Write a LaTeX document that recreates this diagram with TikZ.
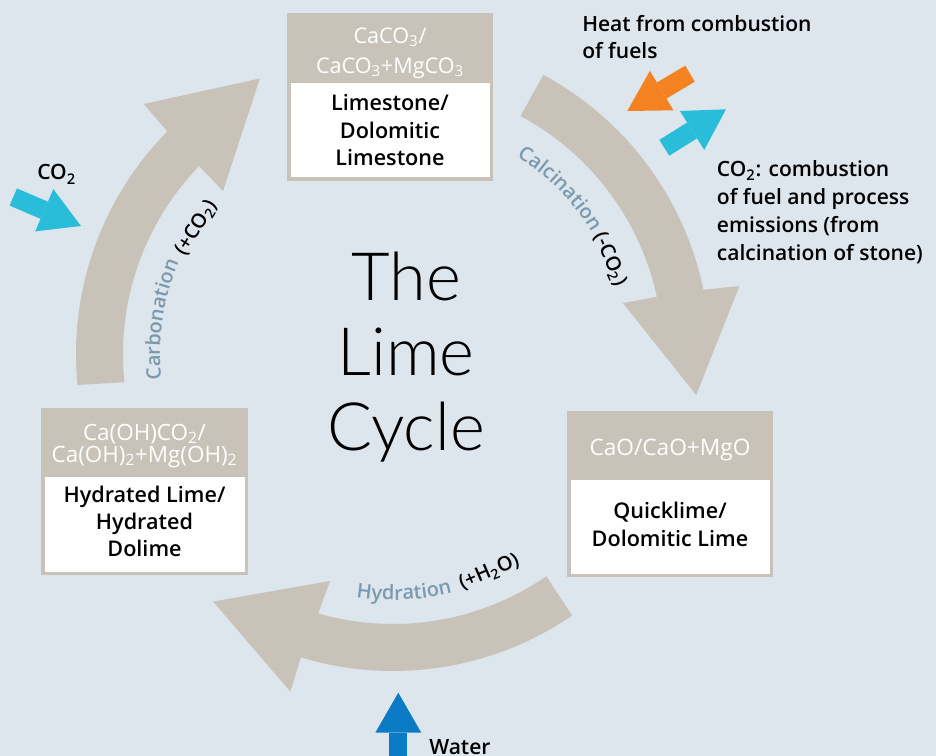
\documentclass[tikz,border=0pt]{standalone}
\usepackage{fontspec}
\setmainfont{Open Sans}[BoldFont={Open Sans Semibold}]
\newfontfamily\titlefont{Lato Light}
\usetikzlibrary{arrows.meta,decorations.text}
\definecolor{bg}{HTML}{DDE6ED}
\definecolor{band}{HTML}{C8C2B9}
\definecolor{lbl}{HTML}{7B9AAF}
\definecolor{heatc}{HTML}{F58220}
\definecolor{cyanc}{HTML}{29BDD9}
\definecolor{waterc}{HTML}{0A7BC4}
\newcommand\subs[1]{\textsubscript{#1}}
\newcommand\lblfont{\fontsize{15}{19}\selectfont\bfseries}
\begin{document}
\begin{tikzpicture}[x=0.75pt,y=-0.75pt,
  bodytxt/.style={font=\fontsize{16.2}{20.6}\selectfont\bfseries, align=center, inner sep=0pt, anchor=base},
  hdrtxt/.style={font=\fontsize{16.2}{22.5}\selectfont, text=white, align=center, inner sep=0pt, anchor=base},
  sidetxt/.style={font=\fontsize{15.8}{20.6}\selectfont\bfseries, align=left, inner sep=0pt, anchor=base west},
  partxt/.style={font=\lblfont, inner sep=0pt, anchor=base west},
  smallarr/.style={line width=14pt, -{Triangle[length=30pt,width=34.5pt,line width=0pt]}},
  bandfill/.style={fill=band}
]
\useasboundingbox (0,0) rectangle (936,756);
\fill[bg] (0,0) rectangle (936,756);

% big cycle arrows
\begin{scope}[shift={(393,354)}]
  % Calcination
  \fill[bandfill] (-61.7:317) arc[start angle=-61.7, end angle=-11.7, radius=317]
     -- (-11.1:353) -- (7.7:306) -- (-12.5:235.5) -- (-12.2:270)
     arc[start angle=-12.2, end angle=-61.8, radius=270] -- cycle;
  % Hydration
  \fill[bandfill] (55.6:317) arc[start angle=55.6, end angle=106.9, radius=317]
     -- (106.9:353) -- (126:306) -- (105.5:235.5) -- (106.1:270)
     arc[start angle=106.1, end angle=55.4, radius=270] -- cycle;
  % Carbonation
  \fill[bandfill] (174.4:317) arc[start angle=174.4, end angle=224.6, radius=317]
     -- (225.1:353) -- (244.2:306) -- (223.8:235.5) -- (224.1:270)
     arc[start angle=224.1, end angle=174, radius=270] -- cycle;

  % arc labels
  \path[decorate, decoration={text along path, text color=lbl, text={|\lblfont|Calcination}}]
     (-58:233) arc[start angle=-58, end angle=-15, radius=233];
  \node[partxt, rotate=-66.75] (calcpar) at (-30.5:233) {(-CO\subs{2})};

  \path[decorate, decoration={text along path, text color=lbl, text={|\lblfont|Hydration}}]
     (98.6:246) arc[start angle=98.6, end angle=60, radius=246];
  \node[partxt, rotate=23.5] (hydpar) at (73.7:246) {(+H\subs{2}O)};

  \path[decorate, decoration={text along path, text color=lbl, text={|\lblfont|Carbonation}}]
     (173.7:233) arc[start angle=173.7, end angle=215, radius=233];
  \node[partxt, rotate=57.75] (carbpar) at (205:230) {(+CO\subs{2})};
\end{scope}

% boxes
\fill[band] (287,13) rectangle (493,181);
\fill[white] (290.5,83) rectangle (489.5,177.5);
\fill[band] (41,408) rectangle (248,575);
\fill[white] (44.5,477) rectangle (244.5,571.5);
\fill[band] (567,411) rectangle (773,577);
\fill[white] (570.5,480) rectangle (769.5,573.5);

% multi-line nodes: base anchor = baseline of last line
\node[hdrtxt] (limehdr) at (390,73.3) {CaCO\subs{3}/\\CaCO\subs{3}+MgCO\subs{3}};
\node[bodytxt] (limebody) at (390,165.5) {Limestone/\\Dolomitic\\Limestone};

\node[hdrtxt, font=\fontsize{16.8}{16.5}\selectfont] (hydhdr) at (144.5,462) {Ca(OH)CO\subs{2}/\\Ca(OH)\subs{2}+Mg(OH)\subs{2}};
\node[bodytxt, font=\fontsize{16.2}{20.2}\selectfont\bfseries] (hydbody) at (144.5,556.7) {Hydrated Lime/\\Hydrated\\Dolime};

\node[hdrtxt, font=\fontsize{17}{20}\selectfont] (quickhdr) at (670,455) {CaO/CaO+MgO};
\node[bodytxt, font=\fontsize{16.2}{21.3}\selectfont\bfseries] (quickbody) at (670,546.7) {Quicklime/\\Dolomitic Lime};

% title
\node[font=\titlefont\fontsize{50}{56.25}\selectfont, align=center, inner sep=0pt, anchor=base] (title) at (406,450) {The\\Lime\\Cycle};

% side texts
\node[sidetxt, font=\fontsize{15.8}{20}\selectfont\bfseries] (heattxt) at (582,58.3) {Heat from combustion\\of fuels};
\node[sidetxt, font=\fontsize{15.8}{21.1}\selectfont\bfseries] (co2txt) at (716.7,261) {CO\subs{2}: combustion\\of fuel and process\\emissions (from\\calcination of stone)};
\node[sidetxt] (co2in) at (37,180) {CO\subs{2}};
\node[sidetxt] (watertxt) at (429,754) {Water};

% small arrows
\coordinate (heatTail) at (690,73.7);
\coordinate (heatTip) at (627.3,111);
\draw[heatc, smallarr] (heatTail) -- (heatTip);
\coordinate (co2outTail) at (664.3,147.8);
\coordinate (co2outTip) at (726,109.3);
\draw[cyanc, smallarr] (co2outTail) -- (co2outTip);
\coordinate (co2inTail) at (13.3,197);
\coordinate (co2inTip) at (81,226);
\draw[cyanc, smallarr] (co2inTail) -- (co2inTip);
\coordinate (waterTail) at (398.3,790);
\coordinate (waterTip) at (398.3,692.7);
\draw[waterc, smallarr, line width=13.5pt] (waterTail) -- (waterTip);
\end{tikzpicture}
\end{document}
